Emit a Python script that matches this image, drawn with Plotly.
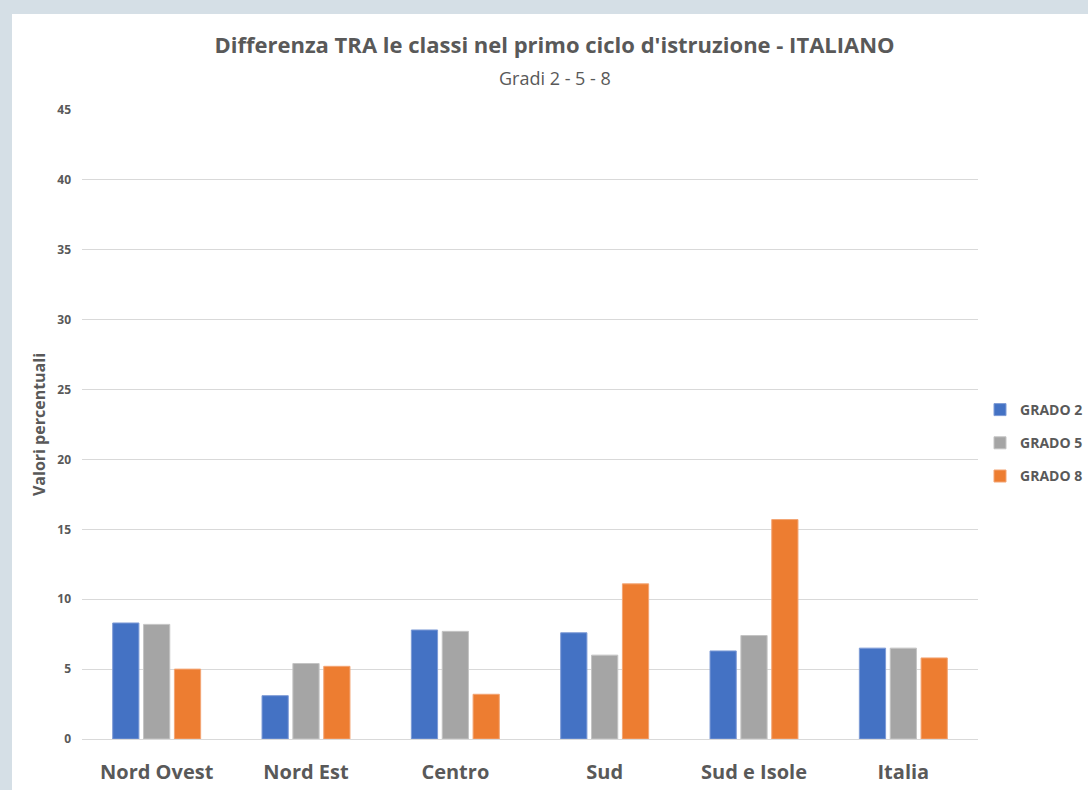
import plotly.graph_objects as go

categories = ["Nord Ovest", "Nord Est", "Centro", "Sud", "Sud e Isole", "Italia"]
grado2 = [8.3, 3.1, 7.8, 7.6, 6.3, 6.5]
grado5 = [8.2, 5.4, 7.7, 6.0, 7.4, 6.5]
grado8 = [5.0, 5.2, 3.2, 11.1, 15.7, 5.8]
series_names = ["GRADO 2", "GRADO 5", "GRADO 8"]
colors = ["#4472C4", "#A5A5A5", "#ED7D31"]
line_colors = ["#7E9BD6", "#C4C4C4", "#F3A574"]
y_ticks = [0, 5, 10, 15, 20, 25, 30, 35, 40, 45]

FONT = "Open Sans, sans-serif"
TXT = "#595959"
BG = "#D5DFE6"

fig = go.Figure()
for name, vals, c, lc in zip(series_names, [grado2, grado5, grado8], colors, line_colors):
    fig.add_trace(go.Bar(
        x=categories, y=vals, name=f"<b>{name}</b>", legendgroup=name,
        marker=dict(color=c, line=dict(color=lc, width=1)),
    ))

W, H = 1088, 790
ml, mr, mt, mb = 82, 110, 110, 51
pw, ph = W - ml - mr, H - mt - mb

fig.add_shape(
    type="rect", xref="paper", yref="paper",
    x0=(12 - ml) / pw, x1=(W + 20 - ml) / pw,
    y0=-(mb + 20) / ph, y1=(H - mb - 14) / ph,
    fillcolor="white", line=dict(width=0), layer="below",
)

fig.update_layout(
    width=W, height=H,
    margin=dict(l=ml, r=mr, t=mt, b=mb, autoexpand=False),
    paper_bgcolor=BG,
    plot_bgcolor="rgba(0,0,0,0)",
    barmode="group", bargap=0.38, bargroupgap=0.15,
    font=dict(family=FONT, color=TXT),
    title=dict(
        text="<b>Differenza TRA le classi nel primo ciclo d'istruzione - ITALIANO</b>",
        x=554.5 / W, xanchor="center", y=1 - 45 / H, yanchor="middle",
        xref="container", yref="container",
        font=dict(size=22, color=TXT, family=FONT),
    ),
    legend=dict(
        x=(980 - ml) / pw, xanchor="left", y=(H - mb - 443) / ph, yanchor="middle",
        font=dict(size=14, color=TXT, family=FONT),
        tracegroupgap=12, itemwidth=30,
        bgcolor="rgba(0,0,0,0)",
    ),
    xaxis=dict(
        showgrid=False, showline=False, zeroline=False,
        tickfont=dict(size=20, color=TXT, family=FONT, weight="bold"),
        ticks="", ticklabelstandoff=19,
    ),
    yaxis=dict(
        range=[0, 45], tickvals=y_ticks,
        showgrid=True, gridcolor="#D9D9D9", gridwidth=1.3,
        zeroline=True, zerolinecolor="#D9D9D9", zerolinewidth=1.3,
        showline=False,
        tickfont=dict(size=12, color=TXT, family=FONT, weight="bold"),
        ticks="", ticklabelstandoff=10,
        title=dict(text="<b>Valori percentuali</b>", font=dict(size=16, color=TXT, family=FONT), standoff=7),
    ),
    annotations=[dict(
        text="Gradi 2 - 5 - 8", xref="paper", yref="paper",
        x=(555 - ml) / pw, y=(H - mb - 78) / ph, xanchor="center", yanchor="middle",
        showarrow=False, font=dict(size=18, color=TXT, family=FONT),
    )],
)

fig.write_html(
    "out.html",
    config={"displayModeBar": False},
    post_script="document.body.style.margin='0';document.body.style.background='" + BG + "';",
)
